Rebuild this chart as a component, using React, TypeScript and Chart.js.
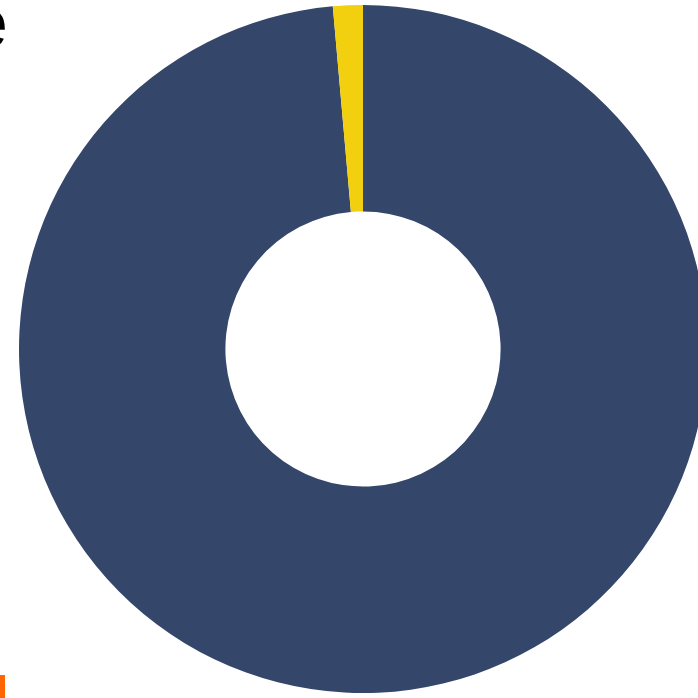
import React, { useEffect, useRef } from "react";
import { Chart, registerables } from "chart.js";

Chart.register(...registerables);

const labels: string[] = ["Other", "Share"];
const values: number[] = [98.6, 1.4];
const colors: string[] = ["#35466B", "#F3D00F"];

export default function App() {
  const ref = useRef<HTMLCanvasElement | null>(null);
  useEffect(() => {
    if (!ref.current) return;
    const chart = new Chart(ref.current, {
      type: "doughnut",
      data: {
        labels,
        datasets: [
          {
            data: values,
            backgroundColor: colors,
            borderWidth: 0,
          },
        ],
      },
      options: {
        animation: false,
        responsive: false,
        cutout: "40%",
        rotation: 0,
        layout: { padding: { left: 19, top: 5, right: 33, bottom: 5 } },
        plugins: { legend: { display: false }, tooltip: { enabled: false }, title: { display: false } },
      },
    });
    return () => chart.destroy();
  }, []);
  return (
    <div style={{ position: "fixed", left: 0, top: 0, width: 698, height: 698, overflow: "hidden", background: "#fff" }}>
      <canvas ref={ref} width={740} height={698} style={{ position: "absolute", left: 0, top: 0 }} />
      <span
        style={{
          position: "absolute",
          left: -31,
          top: -12,
          fontFamily: "'Liberation Sans', Arial, sans-serif",
          fontSize: 70,
          lineHeight: "70px",
          color: "#000",
        }}
      >
        e
      </span>
      <div style={{ position: "absolute", left: 0, top: 675, width: 5, height: 23, background: "#FF6600" }} />
    </div>
  );
}
